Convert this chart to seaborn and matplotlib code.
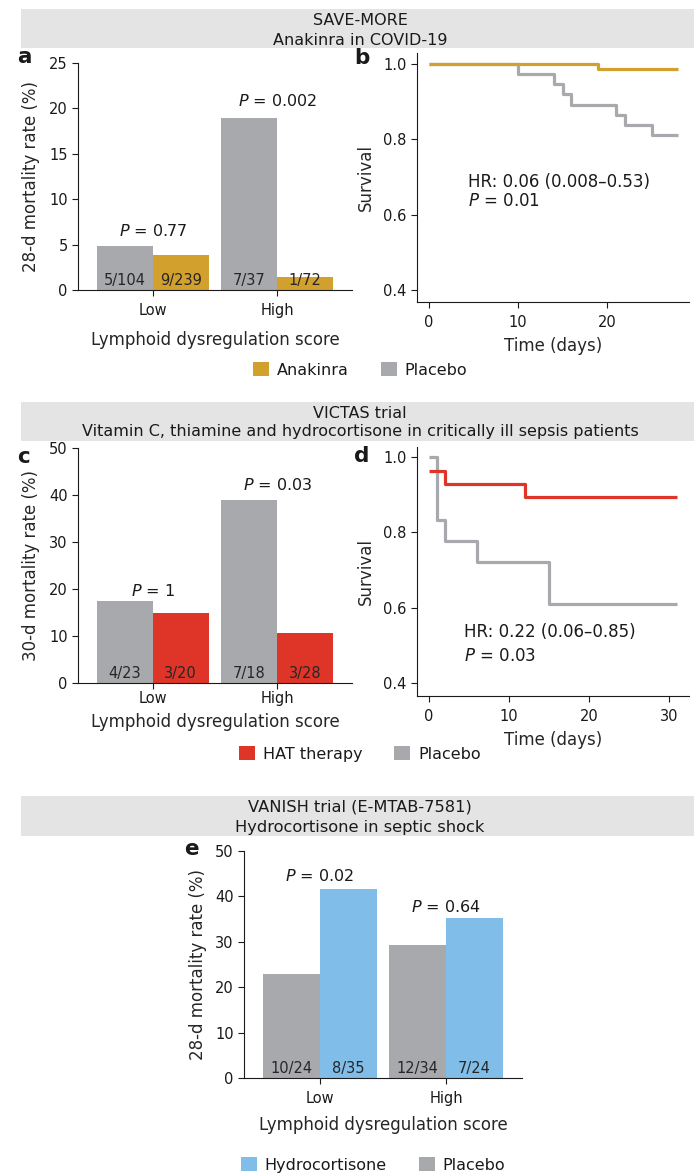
import matplotlib
matplotlib.use("Agg")
import matplotlib.pyplot as plt
from matplotlib.patches import Rectangle, Patch
import seaborn as sns
import pandas as pd

# ---------------- data ----------------
groups = ["Low", "High"]

# Panel a (SAVE-MORE, 28-d mortality %)
a_placebo = [4.8, 18.9]
a_anakinra = [3.8, 1.4]
a_placebo_n = ["5/104", "7/37"]
a_anakinra_n = ["9/239", "1/72"]
a_pvals = ["0.77", "0.002"]

# Panel b (KM, SAVE-MORE)
b_anak_t = [0, 19, 28]
b_anak_s = [1.0, 0.986, 0.986]
b_plac_t = [0, 10, 14, 15, 16, 21, 22, 25, 28]
b_plac_s = [1.0, 0.973, 0.946, 0.919, 0.892, 0.865, 0.838, 0.811, 0.811]

# Panel c (VICTAS, 30-d mortality %)
c_placebo = [17.4, 38.9]
c_hat = [15.0, 10.7]
c_placebo_n = ["4/23", "7/18"]
c_hat_n = ["3/20", "3/28"]
c_pvals = ["1", "0.03"]

# Panel d (KM, VICTAS)
d_hat_t = [0, 2, 12, 31]
d_hat_s = [0.964, 0.929, 0.893, 0.893]
d_plac_t = [0, 1, 2, 6, 15, 31]
d_plac_s = [1.0, 0.833, 0.778, 0.722, 0.611, 0.611]

# Panel e (VANISH, 28-d mortality %)
e_placebo = [22.9, 29.2]
e_hydro = [41.7, 35.3]
e_placebo_n = ["10/24", "12/34"]
e_hydro_n = ["8/35", "7/24"]
e_pvals = ["0.02", "0.64"]

GRAY = "#A7A9AC"
GOLD = "#D2A02C"
RED = "#DF3529"
BLUE = "#80BDE8"
BAND = "#E4E4E4"

sns.set_style("ticks")
plt.rcParams["font.family"] = ["DejaVu Sans"]
plt.rcParams["mathtext.fontset"] = "custom"
plt.rcParams["mathtext.rm"] = "DejaVu Sans"
plt.rcParams["mathtext.it"] = "DejaVu Sans:italic"
plt.rcParams["axes.linewidth"] = 0.8
plt.rcParams["xtick.major.width"] = 0.8
plt.rcParams["ytick.major.width"] = 0.8
plt.rcParams["xtick.major.size"] = 4
plt.rcParams["ytick.major.size"] = 4
plt.rcParams["xtick.major.pad"] = 5.5
plt.rcParams["ytick.major.pad"] = 3.5
plt.rcParams["xtick.color"] = "#1a1a1a"
plt.rcParams["ytick.color"] = "#1a1a1a"
plt.rcParams["axes.edgecolor"] = "#1a1a1a"
plt.rcParams["text.color"] = "#1a1a1a"

W, H = 697, 1173
fig = plt.figure(figsize=(W / 100, H / 100), dpi=100)


def rect(l, t, r, b):
    return [l / W, 1 - b / H, (r - l) / W, (b - t) / H]


TICK_FS = 10.5
LAB_FS = 12
P_FS = 11.5
HR_FS = 12
HEAD_FS = 11.5
LEG_FS = 11.5
CNT_FS = 10.5


def band(top, bottom, line1, line2, y1, y2, fs=HEAD_FS):
    fig.add_artist(Rectangle((21 / W, 1 - bottom / H), (694 - 21) / W, (bottom - top) / H,
                             transform=fig.transFigure, facecolor=BAND, edgecolor="none", zorder=0))
    fig.text(360 / W, 1 - y1 / H, line1, ha="center", va="baseline", fontsize=fs)
    fig.text(360 / W, 1 - y2 / H, line2, ha="center", va="baseline", fontsize=fs)


def panel_letter(ch, x, y):
    fig.text(x / W, 1 - y / H, ch, ha="left", va="baseline", fontsize=15.5, fontweight="bold")


def bar_panel(ax, placebo, treat, placebo_n, treat_n, pvals, p_y, tname, tcolor, ylim, yticks,
              ylabel, xpad=5.5, xlabelpad=9):
    df = pd.DataFrame({
        "group": groups * 2,
        "arm": ["Placebo"] * 2 + [tname] * 2,
        "rate": list(placebo) + list(treat),
    })
    sns.barplot(data=df, x="group", y="rate", hue="arm", order=groups,
                hue_order=["Placebo", tname], palette={"Placebo": GRAY, tname: tcolor},
                width=0.9, saturation=1, linewidth=0, edgecolor="none",
                legend=False, ax=ax, errorbar=None)
    ax.set_xlim(-0.6, 1.6)
    ax.set_ylim(*ylim)
    ax.set_yticks(yticks)
    ax.tick_params(axis="both", labelsize=TICK_FS, direction="out")
    ax.tick_params(axis="x", pad=xpad)
    ax.set_ylabel(ylabel, fontsize=LAB_FS, labelpad=6)
    ax.set_xlabel("Lymphoid dysregulation score", fontsize=LAB_FS, labelpad=xlabelpad)
    sns.despine(ax=ax)
    labels = {"Placebo": placebo_n, tname: treat_n}
    for cont, arm in zip(ax.containers, ["Placebo", tname]):
        for bar, txt in zip(cont, labels[arm]):
            ax.annotate(txt, xy=(bar.get_x() + bar.get_width() / 2, 0), xytext=(0, 1.2),
                        textcoords="offset points", ha="center", va="bottom",
                        fontsize=CNT_FS, color="#262626")
    for i, (p, y) in enumerate(zip(pvals, p_y)):
        ax.text(i, y, r"$\mathit{P}$ = " + p, ha="center", va="baseline", fontsize=P_FS)


def km_panel(ax, curves, xlim, ylim, xticks, hr_text, p_text, hr_xy, p_xy):
    rows = []
    for name, t, s, c in curves:
        for ti, si in zip(t, s):
            rows.append({"arm": name, "time": ti, "surv": si})
    df = pd.DataFrame(rows)
    sns.lineplot(data=df, x="time", y="surv", hue="arm", hue_order=[c[0] for c in curves],
                 palette={c[0]: c[3] for c in curves}, drawstyle="steps-post",
                 estimator=None, linewidth=2.3, legend=False, ax=ax, solid_capstyle="butt")
    ax.set_xlim(*xlim)
    ax.set_ylim(*ylim)
    ax.set_xticks(xticks)
    ax.set_yticks([0.4, 0.6, 0.8, 1.0])
    ax.set_yticklabels(["0.4", "0.6", "0.8", "1.0"])
    ax.tick_params(axis="both", labelsize=TICK_FS, direction="out")
    ax.set_xlabel("Time (days)", fontsize=LAB_FS, labelpad=5)
    ax.set_ylabel("Survival", fontsize=LAB_FS, labelpad=6)
    sns.despine(ax=ax)
    ax.text(hr_xy[0], hr_xy[1], hr_text, ha="left", va="baseline", fontsize=HR_FS)
    ax.text(p_xy[0], p_xy[1], r"$\mathit{P}$ = " + p_text, ha="left", va="baseline", fontsize=HR_FS)


def legend(entries, cx, cy):
    handles = [Patch(facecolor=c, edgecolor="none") for _, c in entries]
    fig.legend(handles, [n for n, _ in entries], loc="center", bbox_to_anchor=(cx / W, 1 - cy / H),
               ncol=2, frameon=False, handlelength=1.0, handleheight=1.0, handletextpad=0.5,
               columnspacing=2.0, fontsize=LEG_FS, borderaxespad=0, borderpad=0)


# ---------------- SAVE-MORE ----------------
band(9, 48, "SAVE-MORE", "Anakinra in COVID-19", 25, 45)
ax_a = fig.add_axes(rect(78, 63, 352, 290))
bar_panel(ax_a, a_placebo, a_anakinra, a_placebo_n, a_anakinra_n, a_pvals, [6.0, 20.3],
          "Anakinra", GOLD, (0, 25), [0, 5, 10, 15, 20, 25], "28-d mortality rate (%)")
panel_letter("a", 17, 63)

ax_b = fig.add_axes(rect(417, 53, 689, 302))
km_panel(ax_b, [("Placebo", b_plac_t, b_plac_s, GRAY), ("Anakinra", b_anak_t, b_anak_s, GOLD)],
         (-1.35, 29.2), (0.368, 1.029), [0, 10, 20],
         "HR: 0.06 (0.008\u20130.53)", "0.01", (4.4, 0.672), (4.4, 0.624))
panel_letter("b", 354, 64)
legend([("Anakinra", GOLD), ("Placebo", GRAY)], 360, 370)

# ---------------- VICTAS ----------------
band(402, 441, "VICTAS trial",
     "Vitamin C, thiamine and hydrocortisone in critically ill sepsis patients", 418, 436)
ax_c = fig.add_axes(rect(78, 448, 352, 683))
bar_panel(ax_c, c_placebo, c_hat, c_placebo_n, c_hat_n, c_pvals, [18.5, 41.1],
          "HAT therapy", RED, (0, 50), [0, 10, 20, 30, 40, 50], "30-d mortality rate (%)",
          xpad=2.0, xlabelpad=5)
panel_letter("c", 17, 463)

ax_d = fig.add_axes(rect(417, 447, 689, 696))
km_panel(ax_d, [("Placebo", d_plac_t, d_plac_s, GRAY), ("HAT therapy", d_hat_t, d_hat_s, RED)],
         (-1.5, 32.5), (0.3655, 1.0265), [0, 10, 20, 30],
         "HR: 0.22 (0.06\u20130.85)", "0.03", (4.4, 0.523), (4.4, 0.459))
panel_letter("d", 354, 462)
legend([("HAT therapy", RED), ("Placebo", GRAY)], 360, 754)

# ---------------- VANISH ----------------
band(796, 836, "VANISH trial (E-MTAB-7581)", "Hydrocortisone in septic shock", 811, 832, fs=11.7)
ax_e = fig.add_axes(rect(244, 851, 522, 1078))
bar_panel(ax_e, e_placebo, e_hydro, e_placebo_n, e_hydro_n, e_pvals, [43.4, 36.6],
          "Hydrocortisone", BLUE, (0, 50), [0, 10, 20, 30, 40, 50], "28-d mortality rate (%)",
          xpad=5.5, xlabelpad=7)
panel_letter("e", 184, 855)
legend([("Hydrocortisone", BLUE), ("Placebo", GRAY)], 373, 1165)

fig.savefig("out.png", dpi=100)
